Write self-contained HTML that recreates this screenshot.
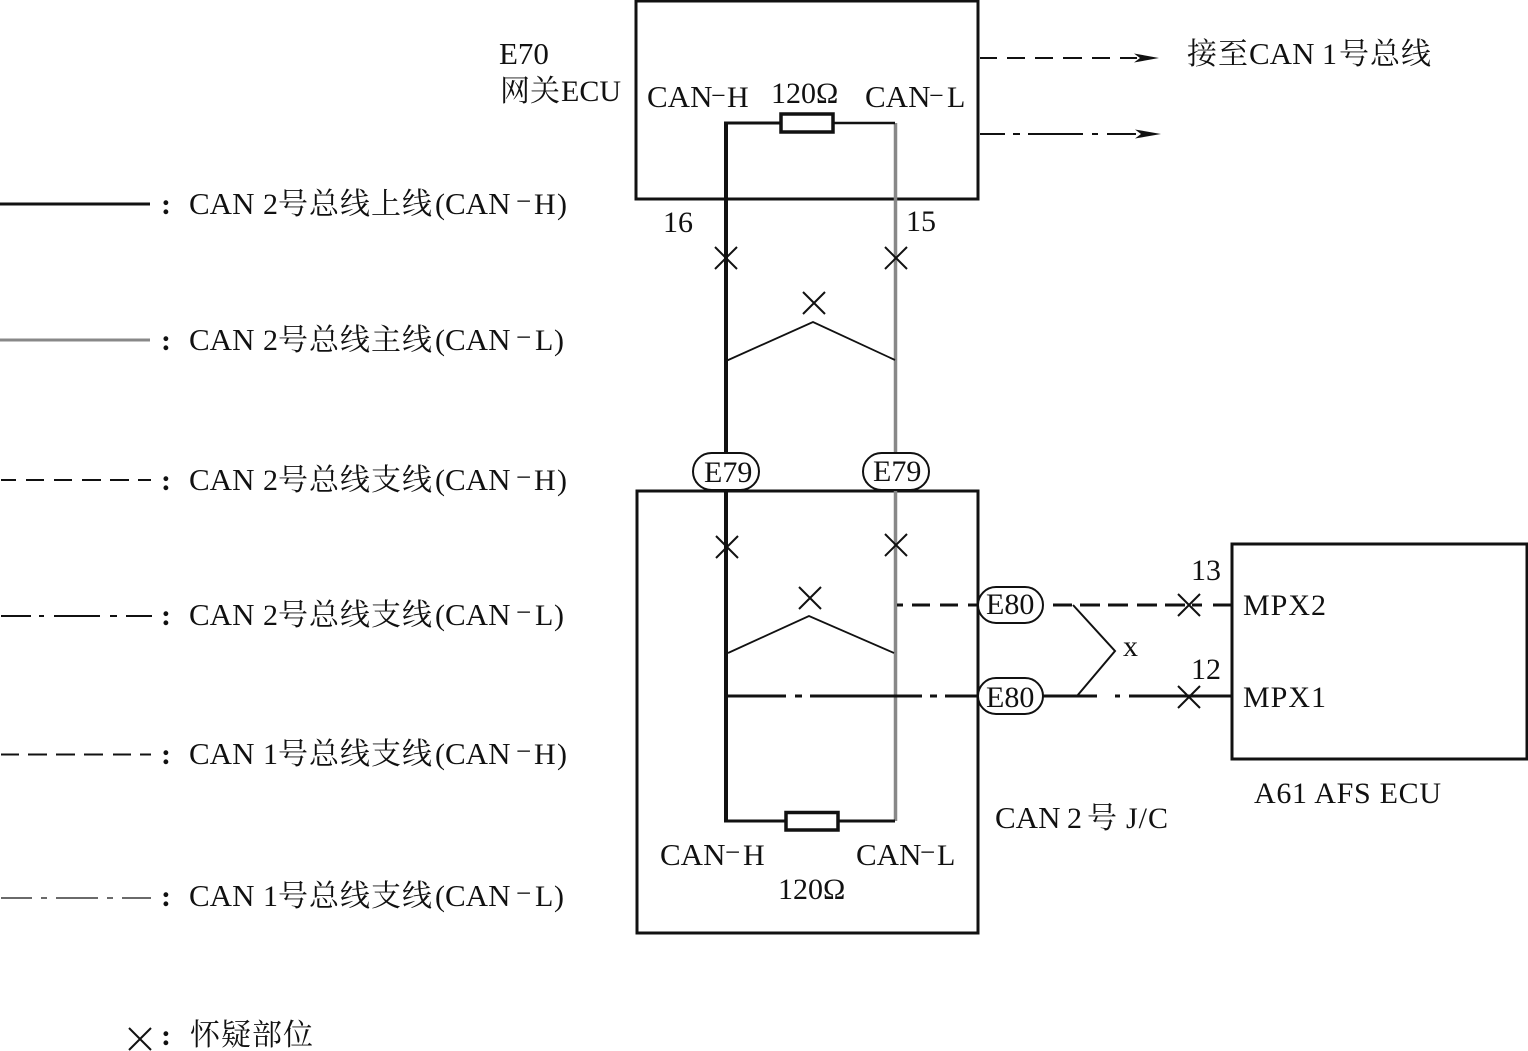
<!DOCTYPE html>
<html><head><meta charset="utf-8"><style>
html,body{margin:0;padding:0;background:#fff}
svg{display:block}
text{font-family:"Liberation Serif","Noto Serif CJK SC",serif;font-size:30px;fill:#111}
.l{font-size:31px}
.c{letter-spacing:1px}
.m{font-size:27px}
.n{font-size:26px}
.d{font-weight:bold}
</style></head><body>
<svg width="1528" height="1051" viewBox="0 0 1528 1051" xmlns="http://www.w3.org/2000/svg">
<g fill="none" stroke="#111">
<rect x="636" y="1" width="342" height="198" stroke-width="3"/>
<rect x="637" y="491" width="341" height="442" stroke-width="3"/>
<rect x="1232" y="544" width="295" height="215" stroke-width="3"/>
<!-- legend -->
<path d="M0 204H150" stroke-width="3"/>
<path d="M0 340H150" stroke="#888" stroke-width="3"/>
<path d="M1 480H16M26 480H44M54 480H72M82 480H101M110 480H129M138 480H151" stroke-width="2"/>
<path d="M1 616H31M39 616H44M54 616H100M110 616H117M126 616H152" stroke-width="2"/>
<path d="M1 754.5H19M28 754.5H47M56 754.5H75M84 754.5H103M113 754.5H131M140 754.5H151" stroke-width="2"/>
<path d="M1 898H32M41 898H47M56 898H98M107 898H113M122 898H151" stroke-width="1.2"/>
<!-- top arrows -->
<path d="M980 58H997M1007 58H1025M1035 58H1053M1063 58H1082M1092 58H1110M1120 58H1137" stroke-width="2"/>
<path d="M980 134H1005M1013 134H1020M1028 134H1083M1092 134H1098M1107 134H1136" stroke-width="2"/>
<!-- main bus -->
<path d="M895.5 123V821" stroke="#888" stroke-width="3.5"/>
<path d="M726 491V821" stroke-width="4"/>
<path d="M726 123V455" stroke-width="4"/>
<path d="M724 123H781" stroke-width="3"/>
<path d="M833 123H895" stroke-width="2.5"/>
<rect x="781" y="114" width="52" height="18" stroke-width="3.5" fill="#fff"/>
<path d="M724 821H786M838 821H895" stroke-width="3"/>
<rect x="786" y="812.5" width="52" height="17.5" stroke-width="3.5" fill="#fff"/>
<!-- twists -->
<path d="M726 361L813 322L895 360" stroke-width="1.8"/>
<path d="M728 653L809 616L894 653" stroke-width="1.8"/>
<!-- branch -->
<path d="M897 605H903M912 605H930M940 605H958M968 605H978" stroke-width="3"/>
<path d="M1053 605H1072M1080 605H1100M1108 605H1128M1137 605H1157M1165 605H1185M1192 605H1202M1213 605H1232" stroke-width="3"/>
<path d="M727 696H786M795 696H802M810 696H922M930 696H937M945 696H978" stroke-width="3"/>
<path d="M1043 696H1097M1115 696H1120M1129 696H1232" stroke-width="3"/>
<path d="M1073 605L1115 651L1077 696" stroke-width="2"/>
<!-- crosses -->
<g stroke-width="2">
<path d="M715 247L737 269M737 247L715 269"/>
<path d="M885 247L907 269M907 247L885 269"/>
<path d="M803 292L825 314M825 292L803 314"/>
<path d="M716 536L738 558M738 536L716 558"/>
<path d="M885 534L907 556M907 534L885 556"/>
<path d="M799 587L821 609M821 587L799 609"/>
<path d="M1178 594L1200 616M1200 594L1178 616"/>
<path d="M1178 686L1200 708M1200 686L1178 708"/>
<path d="M129 1028L151 1050M151 1028L129 1050"/>
</g>
<!-- connector pills -->
<g stroke-width="2" fill="#fff">
<rect x="693" y="453" width="66" height="37" rx="18.5"/>
<rect x="863" y="453" width="66" height="37" rx="18.5"/>
<rect x="978" y="587" width="65" height="36" rx="18"/>
<rect x="978" y="678" width="65" height="36" rx="18"/>
</g>
</g>
<path d="M1159 58L1134 53.5L1140 58L1134 62.5Z M1161 134L1135 129.5L1141 134L1135 138.5Z" fill="#111"/>
<!-- labels -->
<text x="499" y="64" class="l">E70</text>
<text x="500" y="101">网关</text><text x="561" y="101" textLength="60">ECU</text>
<text x="647" y="107" class="l">CAN</text><text x="711" y="104" class="n">−</text><text x="727" y="107">H</text>
<text x="771" y="103">120Ω</text>
<text x="865" y="107" class="l">CAN</text><text x="929" y="104" class="n">−</text><text x="947" y="107">L</text>
<text x="663" y="232">16</text>
<text x="906" y="231">15</text>
<text x="1187" y="64" class="c">接至</text><text x="1249" y="64" class="l">CAN</text><text x="1322" y="64">1</text><text x="1339" y="64" class="c">号总线</text>
<text x="704" y="482">E79</text>
<text x="873" y="481">E79</text>
<text x="986" y="614">E80</text>
<text x="986" y="707">E80</text>
<text x="1191" y="580">13</text>
<text x="1191" y="679">12</text>
<text x="1243" y="615" textLength="83">MPX2</text>
<text x="1243" y="707" textLength="83">MPX1</text>
<text x="1123" y="656">x</text>
<text x="1254" y="803" textLength="187">A61 AFS ECU</text>
<text x="995" y="828" class="l">CAN</text><text x="1067" y="828">2</text><text x="1087" y="828">号</text><text x="1126" y="828" textLength="42">J/C</text>
<text x="660" y="865" class="l">CAN</text><text x="725" y="861" class="m">−</text><text x="743" y="865">H</text>
<text x="856" y="865" class="l">CAN</text><text x="920" y="861" class="m">−</text><text x="937" y="865">L</text>
<text x="778" y="899">120Ω</text>

<text x="161" y="214" class="d">:</text><text x="189" y="214" class="l">CAN</text><text x="263" y="214">2</text><text x="278" y="214" class="c">号总线上线</text><text x="435" y="214">(</text><text x="445" y="214" class="l">CAN</text><text x="516" y="210" class="m">−</text><text x="534" y="214">H</text><text x="557" y="214">)</text>

<text x="161" y="350" class="d">:</text><text x="189" y="350" class="l">CAN</text><text x="263" y="350">2</text><text x="278" y="350" class="c">号总线主线</text><text x="435" y="350">(</text><text x="445" y="350" class="l">CAN</text><text x="516" y="346" class="m">−</text><text x="535" y="350">L</text><text x="554" y="350">)</text>

<text x="161" y="490" class="d">:</text><text x="189" y="490" class="l">CAN</text><text x="263" y="490">2</text><text x="278" y="490" class="c">号总线支线</text><text x="435" y="490">(</text><text x="445" y="490" class="l">CAN</text><text x="516" y="486" class="m">−</text><text x="534" y="490">H</text><text x="557" y="490">)</text>

<text x="161" y="625" class="d">:</text><text x="189" y="625" class="l">CAN</text><text x="263" y="625">2</text><text x="278" y="625" class="c">号总线支线</text><text x="435" y="625">(</text><text x="445" y="625" class="l">CAN</text><text x="516" y="621" class="m">−</text><text x="535" y="625">L</text><text x="554" y="625">)</text>

<text x="161" y="764" class="d">:</text><text x="189" y="764" class="l">CAN</text><text x="263" y="764">1</text><text x="278" y="764" class="c">号总线支线</text><text x="435" y="764">(</text><text x="445" y="764" class="l">CAN</text><text x="516" y="760" class="m">−</text><text x="534" y="764">H</text><text x="557" y="764">)</text>

<text x="161" y="906" class="d">:</text><text x="189" y="906" class="l">CAN</text><text x="263" y="906">1</text><text x="278" y="906" class="c">号总线支线</text><text x="435" y="906">(</text><text x="445" y="906" class="l">CAN</text><text x="516" y="902" class="m">−</text><text x="535" y="906">L</text><text x="554" y="906">)</text>

<text x="161" y="1045" class="d">:</text><text x="190" y="1045" class="c">怀疑部位</text>
</svg>
</body></html>
